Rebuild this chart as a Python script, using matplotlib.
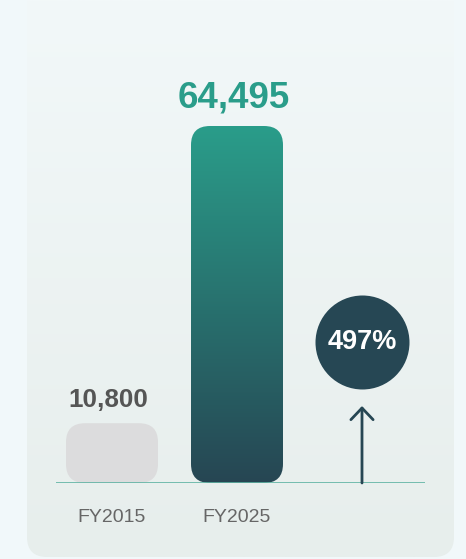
import numpy as np
import matplotlib
matplotlib.use("Agg")
import matplotlib.pyplot as plt
from matplotlib.patches import FancyBboxPatch
from matplotlib.colors import LinearSegmentedColormap

# ---- data ----
categories = ["FY2015", "FY2025"]
values = [10800, 64495]
value_labels = ["10,800", "64,495"]
growth_label = "497%"

W, H = 466, 559
fig = plt.figure(figsize=(W / 100, H / 100), dpi=100)
fig.patch.set_facecolor("#f1f8fa")

# ---- card background ----
bg = fig.add_axes([0, 0, 1, 1], zorder=0)
bg.set_xlim(0, W)
bg.set_ylim(H, 0)
bg.axis("off")
card = FancyBboxPatch((27, -120), 454 - 27, 557 + 120,
                      boxstyle="round,pad=0,rounding_size=20",
                      facecolor="none", edgecolor="none")
bg.add_patch(card)
grad = np.linspace(0, 1, 256).reshape(-1, 1)
card_cmap = LinearSegmentedColormap.from_list("card", ["#f2f8f9", "#e7eeec"])
im = bg.imshow(grad, cmap=card_cmap, extent=(27, 454, 557, 0), aspect="auto")
im.set_clip_path(card)
bg.set_xlim(0, W)
bg.set_ylim(H, 0)

# ---- main axes ----
x0_px, x1_px = 56, 425
base_px = 483
top_val_px = 126
ymax = 72000
px_per_val = (base_px - top_val_px) / values[1]
ax_h_px = ymax * px_per_val
ax = fig.add_axes([x0_px / W, (H - base_px) / H, (x1_px - x0_px) / W, ax_h_px / H], zorder=1)
ax.patch.set_alpha(0)
xlim = (-0.448, 2.504)
ax.set_xlim(*xlim)
ax.set_ylim(0, ymax)
for s in ax.spines.values():
    s.set_visible(False)
ax.set_yticks([])
xs = np.arange(len(categories))
ax.set_xticks(xs)
ax.set_xticklabels(categories, fontsize=14, color="#666666", family="Liberation Sans")
ax.tick_params(axis="x", length=0, pad=19)

bar_w = 0.736
bars = ax.bar(xs, values, width=bar_w, color="none", edgecolor="none")

# aspect: data y-units per data x-unit (pixel-equal)
x_per_px = (xlim[1] - xlim[0]) / (x1_px - x0_px)
y_per_px = 1 / px_per_val
aspect = y_per_px / x_per_px
r = 19 * x_per_px

bar_cmap = LinearSegmentedColormap.from_list("bar", ["#264653", "#2a9d8a"])
for i, b in enumerate(bars):
    x, w, h = b.get_x(), b.get_width(), b.get_height()
    p = FancyBboxPatch((x, 0), w, h, boxstyle=f"round,pad=0,rounding_size={r}",
                       mutation_aspect=aspect, facecolor="#dcdcdd" if i == 0 else "none",
                       edgecolor="none", zorder=2)
    ax.add_patch(p)
    if i == 1:
        g = ax.imshow(np.linspace(0, 1, 256).reshape(-1, 1), cmap=bar_cmap, origin="lower",
                      extent=(x, x + w, 0, h), aspect="auto", zorder=2)
        g.set_clip_path(p)

ax.set_xlim(*xlim)
ax.set_ylim(0, ymax)

# value labels
ax.annotate(value_labels[0], (xs[0], values[0]), xytext=(-2.5, 11.5), textcoords="offset points",
            ha="center", va="baseline", fontsize=18.8, fontweight="bold", color="#555555",
            family="Liberation Sans")
ax.annotate(value_labels[1], (xs[1], values[1]), xytext=(-2, 13), textcoords="offset points",
            ha="center", va="baseline", fontsize=26.5, fontweight="bold", color="#2a9d8a",
            family="Liberation Sans")

# baseline
ax.axhline(0, color="#5fb3a3", lw=1.2, zorder=3)

# growth arrow and badge
arrow_top = (base_px - 406) * y_per_px
badge_y = (base_px - 342) * y_per_px
ax.annotate("", xy=(2, arrow_top), xytext=(2, 0),
            arrowprops=dict(arrowstyle="->,head_length=0.42,head_width=0.4", lw=2,
                            color="#264653", shrinkA=0, shrinkB=0, mutation_scale=20),
            zorder=3)
diam_pt = 94 * 0.72
ax.scatter([2], [badge_y], s=diam_pt ** 2, color="#264754", zorder=4, clip_on=False,
           linewidths=0)
ax.text(2, badge_y, growth_label, ha="center", va="center", fontsize=19.5, fontweight="bold",
        color="white", family="Liberation Sans", zorder=5)

fig.savefig("out.png", dpi=100, facecolor=fig.get_facecolor())
